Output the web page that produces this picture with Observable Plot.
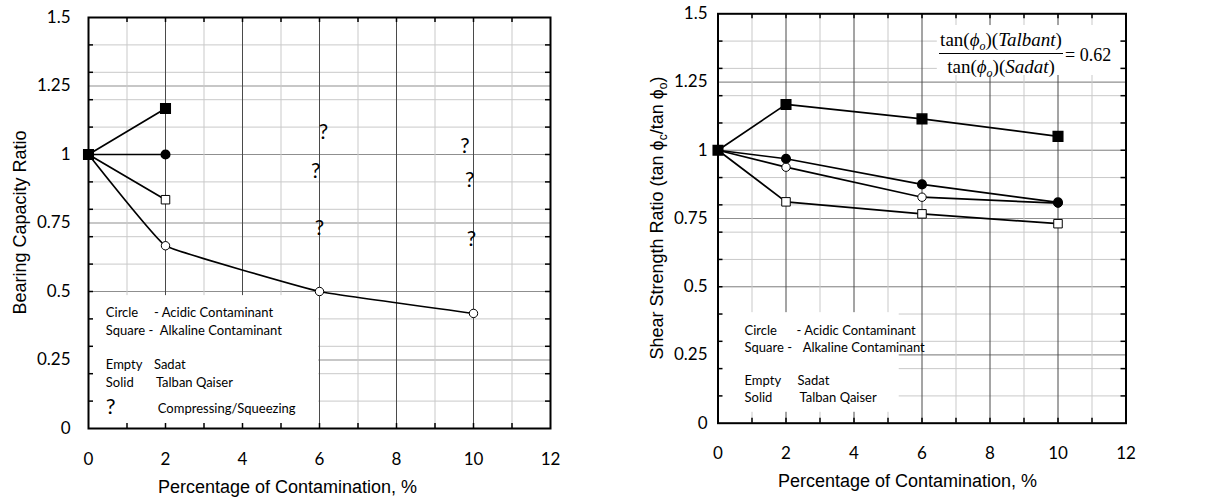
<!DOCTYPE html>
<html><head><meta charset="utf-8">
<script src="https://cdn.jsdelivr.net/npm/d3@7"></script>
<script src="https://cdn.jsdelivr.net/npm/@observablehq/plot@0.6"></script>
<style>
body{margin:0;background:#fff;}
#wrap{position:relative;width:1214px;height:500px;display:flex;}
#wrap svg{display:block;flex:none;}
</style></head><body><div id="wrap"></div>
<script>
// ---------- data ----------
const pctLong = [0, 2, 6, 10];
const pctShort = [0, 2];

// Bearing capacity ratio (left panel)
const bcTalbanAlkaline = [1, 1.168];
const bcTalbanAcidic = [1, 1.0];
const bcSadatAlkaline = [1, 0.835];
const bcSadatAcidic = [1, 0.667, 0.5, 0.42];

// Shear strength ratio (right panel)
const ssTalbanAlkaline = [1, 1.168, 1.115, 1.051];
const ssTalbanAcidic = [1, 0.969, 0.875, 0.809];
const ssSadatAcidic = [1, 0.938, 0.828, 0.806];
const ssSadatAlkaline = [1, 0.811, 0.767, 0.731];

// "?" compressing/squeezing markers (left panel)
const qX = [6.1, 5.9, 6.0, 9.78, 9.9, 9.95];
const qY = [1.08, 0.94, 0.73, 1.03, 0.905, 0.69];

// ticks & grid
const xTickLabels = [0, 2, 4, 6, 8, 10, 12];
const yTickLabels = [0, 0.25, 0.5, 0.75, 1, 1.25, 1.5];
const xIntegerTicks = [1, 2, 3, 4, 5, 6, 7, 8, 9, 10, 11];
const xMinorGrid = [1, 3, 5, 7, 9, 11];
const xMajorGrid = [2, 4, 6, 8, 10];
const yMajorGrid = [0.25, 0.5, 0.75, 1, 1.25];
const yFineGrid = [0.1, 0.2, 0.3, 0.4, 0.5, 0.6, 0.7, 0.8, 0.9, 1.0, 1.1, 1.2, 1.3, 1.4];

// legend texts
const legendCol1 = ["Circle", "Square -", "Empty", "Solid"];
const legendCol2 = ["- Acidic Contaminant", "Alkaline Contaminant", "Sadat", "Talban Qaiser"];
const legendQ = "?";
const legendQText = "Compressing/Squeezing";

// ---------- helpers ----------
function rows(xs, ys, name) { return xs.map((x, i) => ({x, y: ys[i], series: name})); }

function gridMarks(W, H, m) {
  const ph = H - m.top - m.bottom, pw = W - m.left - m.right;
  return {
    grid: [
      Plot.ruleY(yFineGrid, {y: d => d, stroke: "#c9c9c9", strokeWidth: 1}),
      Plot.ruleY(yMajorGrid, {y: d => d, stroke: "#8f8f8f", strokeWidth: 1.2}),
      Plot.ruleX(xMinorGrid, {x: d => d, stroke: "#c9c9c9", strokeWidth: 1}),
      Plot.ruleX(xMajorGrid, {x: d => d, stroke: "#4a4a4a", strokeWidth: 1})
    ],
    ticks: [
      Plot.tickX(xIntegerTicks, {x: d => d, insetBottom: ph - 5, stroke: "black", strokeWidth: 1.5}),
      Plot.tickX(xIntegerTicks, {x: d => d, insetTop: ph - 5, stroke: "black", strokeWidth: 1.5}),
      Plot.tickY(yFineGrid, {y: d => d, insetRight: pw - 5, stroke: "black", strokeWidth: 1.5}),
      Plot.tickY(yFineGrid, {y: d => d, insetLeft: pw - 5, stroke: "black", strokeWidth: 1.5}),
      Plot.frame({stroke: "black", strokeWidth: 2})
    ]
  };
}

function seriesMarks(emptySquares, emptyCircles, solidCircles, solidSquares) {
  return [
    Plot.dot(emptySquares, {x: "x", y: "y", symbol: "square", r: 4.8, fill: "white", stroke: "black", strokeWidth: 1}),
    Plot.dot(emptyCircles, {x: "x", y: "y", symbol: "circle", r: 4.2, fill: "white", stroke: "black", strokeWidth: 1}),
    Plot.dot(solidCircles, {x: "x", y: "y", symbol: "circle", r: 4.3, fill: "black", stroke: "black"}),
    Plot.dot(solidSquares, {x: "x", y: "y", symbol: "square", r: 5.4, fill: "black", stroke: "black"})
  ];
}

const wrap = document.getElementById("wrap");
const W = 607, H = 500;
const sans = "'Liberation Sans', Arial, sans-serif";
const serif = "'Liberation Serif', 'Times New Roman', serif";

// ---------- left panel ----------
{
  const m = {left: 88, right: 57, top: 17, bottom: 72};
  const g = gridMarks(W, H, m);
  const sAlkT = rows(pctShort, bcTalbanAlkaline, "Talban alkaline");
  const sAcT = rows(pctShort, bcTalbanAcidic, "Talban acidic");
  const sAlkS = rows(pctShort, bcSadatAlkaline, "Sadat alkaline");
  const sAcS = rows(pctLong, bcSadatAcidic, "Sadat acidic");
  const legendBox = [{x1: 0, x2: 5.98, y1: 0, y2: 0.485}];
  const legendRowsY = [0.422, 0.358, 0.231, 0.168];
  const svg = Plot.plot({
    width: W, height: H,
    marginLeft: m.left, marginRight: m.right, marginTop: m.top, marginBottom: m.bottom,
    x: {domain: [0, 12]}, y: {domain: [0, 1.5]},
    style: {fontFamily: "Lato, sans-serif", fontSize: "17px", color: "black", background: "white"},
    marks: [
      ...g.grid,
      Plot.rect(legendBox, {x1: "x1", x2: "x2", y1: "y1", y2: "y2", fill: "white"}),
      Plot.line([...sAlkT, ...sAcT, ...sAlkS], {x: "x", y: "y", z: "series", stroke: "black", strokeWidth: 1.7}),
      Plot.line(sAcS, {x: "x", y: "y", stroke: "black", strokeWidth: 1.7, curve: "cardinal", tension: 0.75}),
      ...seriesMarks(sAlkS, sAcS, sAcT, sAlkT),
      Plot.text(qX, {x: d => d, y: (d, i) => qY[i], text: () => "?", fontSize: 21, fontFamily: "Lato, sans-serif"}),
      Plot.text(legendCol1, {x: 0.45, y: (d, i) => legendRowsY[i], text: d => d, textAnchor: "start", fontSize: 13}),
      Plot.text(legendCol2, {x: (d, i) => [1.70, 1.85, 1.70, 1.75][i], y: (d, i) => legendRowsY[i], text: d => d, textAnchor: "start", fontSize: 13}),
      Plot.text([legendQ], {x: 0.45, y: 0.08, text: d => d, textAnchor: "start", fontSize: 22}),
      Plot.text([legendQText], {x: 1.8, y: 0.073, text: d => d, textAnchor: "start", fontSize: 13}),
      ...g.ticks,
      Plot.axisY({ticks: yTickLabels, tickSize: 0, tickPadding: 18, tickFormat: d => String(d), label: null}),
      Plot.axisX({ticks: xTickLabels, tickSize: 0, tickPadding: 24, tickFormat: d => String(d), label: null})
    ]
  });
  const s = d3.select(svg);
  s.append("text").attr("transform", "translate(26,222.5) rotate(-90)")
    .attr("text-anchor", "middle").attr("font-family", sans)
    .attr("font-size", 18).attr("fill", "black").text("Bearing Capacity Ratio");
  s.append("text").attr("x", 287.5).attr("y", 493)
    .attr("text-anchor", "middle").attr("font-family", sans)
    .attr("font-size", 18).attr("fill", "black").text("Percentage of Contamination, %");
  wrap.appendChild(svg);
}

// ---------- right panel ----------
{
  const m = {left: 110.5, right: 88.5, top: 13.3, bottom: 77.3};
  const g = gridMarks(W, H, m);
  const sAlkT = rows(pctLong, ssTalbanAlkaline, "Talban alkaline");
  const sAcT = rows(pctLong, ssTalbanAcidic, "Talban acidic");
  const sAcS = rows(pctLong, ssSadatAcidic, "Sadat acidic");
  const sAlkS = rows(pctLong, ssSadatAlkaline, "Sadat alkaline");
  const legendBox = [{x1: 0, x2: 5.33, y1: 0.04, y2: 0.405}];
  const formulaBox = [{x1: 6.45, x2: 11.84, y1: 1.274, y2: 1.457}];
  const legendRowsY = [0.34, 0.277, 0.156, 0.094];
  const svg = Plot.plot({
    width: W, height: H,
    marginLeft: m.left, marginRight: m.right, marginTop: m.top, marginBottom: m.bottom,
    x: {domain: [0, 12]}, y: {domain: [0, 1.5]},
    style: {fontFamily: "Lato, sans-serif", fontSize: "17px", color: "black", background: "white"},
    marks: [
      ...g.grid,
      Plot.rect(legendBox, {x1: "x1", x2: "x2", y1: "y1", y2: "y2", fill: "white"}),
      Plot.rect(formulaBox, {x1: "x1", x2: "x2", y1: "y1", y2: "y2", fill: "white"}),
      Plot.line([...sAlkT, ...sAcT, ...sAcS, ...sAlkS], {x: "x", y: "y", z: "series", stroke: "black", strokeWidth: 1.7}),
      ...seriesMarks(sAlkS, sAcS, sAcT, sAlkT),
      Plot.text(legendCol1, {x: 0.78, y: (d, i) => legendRowsY[i], text: d => d, textAnchor: "start", fontSize: 13}),
      Plot.text(legendCol2, {x: (d, i) => [2.31, 2.49, 2.34, 2.40][i], y: (d, i) => legendRowsY[i], text: d => d, textAnchor: "start", fontSize: 13}),
      ...g.ticks,
      Plot.axisY({ticks: yTickLabels, tickSize: 0, tickPadding: 10.5, tickFormat: d => String(d), label: null}),
      Plot.axisX({ticks: xTickLabels, tickSize: 0, tickPadding: 24, tickFormat: d => String(d), label: null})
    ]
  });
  const s = d3.select(svg);
  // y title with subscripts
  const yt = s.append("text").attr("transform", "translate(56,218) rotate(-90)")
    .attr("text-anchor", "middle").attr("font-family", sans).attr("font-size", 18).attr("fill", "black");
  yt.append("tspan").text("Shear Strength Ratio (tan \u03d5");
  yt.append("tspan").attr("font-size", 12).attr("dy", 4).text("c");
  yt.append("tspan").attr("dy", -4).text("/tan \u03d5");
  yt.append("tspan").attr("font-size", 12).attr("dy", 4).text("o");
  yt.append("tspan").attr("dy", -4).text(")");
  s.append("text").attr("x", 300.5).attr("y", 487)
    .attr("text-anchor", "middle").attr("font-family", sans)
    .attr("font-size", 18).attr("fill", "black").text("Percentage of Contamination, %");
  // formula
  function fracPart(y, word) {
    const t = s.append("text").attr("x", 394).attr("y", y).attr("text-anchor", "middle")
      .attr("font-family", serif).attr("font-size", 19).attr("fill", "black");
    t.append("tspan").text("tan(");
    t.append("tspan").attr("font-style", "italic").text("\u03d5");
    t.append("tspan").attr("font-style", "italic").attr("font-size", 12).attr("dy", 4).text("o");
    t.append("tspan").attr("dy", -4).text(")(");
    t.append("tspan").attr("font-style", "italic").text(word);
    t.append("tspan").text(")");
  }
  fracPart(46, "Talbant");
  fracPart(73, "Sadat");
  s.append("line").attr("x1", 332).attr("x2", 456).attr("y1", 53.5).attr("y2", 53.5)
    .attr("stroke", "black").attr("stroke-width", 1);
  s.append("text").attr("x", 458).attr("y", 61).attr("text-anchor", "start").attr("font-family", serif)
    .attr("font-size", 18).attr("fill", "black").text("= 0.62");
  wrap.appendChild(svg);
}
</script></body></html>
